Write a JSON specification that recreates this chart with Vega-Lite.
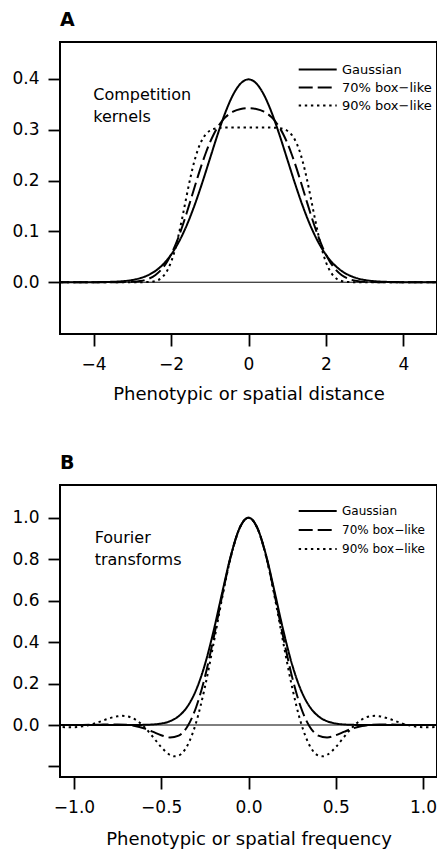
{
  "$schema": "https://vega.github.io/schema/vega-lite/v6.json",
  "padding": {"left": 10, "top": 10, "right": 0, "bottom": 0},
  "spacing": 49,
  "config": {
    "font": "DejaVu Sans",
    "view": {"stroke": "black", "strokeWidth": 2},
    "axis": {"domain": false, "grid": false, "tickColor": "black", "tickWidth": 1.8, "tickSize": 12, "labelFontSize": 17, "labelColor": "black", "titleFontSize": 18, "titleFontWeight": "normal", "titleColor": "black"},
    "axisX": {"labelPadding": 10, "titlePadding": 13},
    "axisY": {"labelPadding": 9},
    "title": {"anchor": "start", "frame": "group", "fontSize": 19, "fontWeight": "bold", "color": "black", "baseline": "alphabetic", "offset": 12},
    "legend": {"orient": "none", "title": null, "symbolType": "stroke", "symbolSize": 1444, "symbolStrokeWidth": 2, "symbolStrokeColor": "black", "labelColor": "black", "labelOffset": 4.3, "rowPadding": 0, "padding": 0}
  },
  "resolve": {"scale": {"strokeDash": "independent"}, "legend": {"strokeDash": "independent"}},
  "vconcat": [
    {
      "width": 377,
      "height": 292,
      "title": {"text": "A"},
      "layer": [
        {
          "data": {"values": [{"level": 0}]},
          "mark": {"type": "rule", "color": "black", "strokeWidth": 1},
          "encoding": {"y": {"field": "level", "type": "quantitative", "scale": {"domain": [-0.1018, 0.4724], "nice": false, "zero": false}, "axis": {"values": [0, 0.1, 0.2, 0.3, 0.4], "format": ".1f", "title": null}}}
        },
        {
          "data": {"values": [
            {"x": -5, "y": 0, "kernel": "Gaussian"},
            {"x": -4.5, "y": 0.00002, "kernel": "Gaussian"},
            {"x": -4, "y": 0.00013, "kernel": "Gaussian"},
            {"x": -3.8, "y": 0.00029, "kernel": "Gaussian"},
            {"x": -3.6, "y": 0.00061, "kernel": "Gaussian"},
            {"x": -3.4, "y": 0.00123, "kernel": "Gaussian"},
            {"x": -3.2, "y": 0.00238, "kernel": "Gaussian"},
            {"x": -3, "y": 0.00443, "kernel": "Gaussian"},
            {"x": -2.8, "y": 0.00792, "kernel": "Gaussian"},
            {"x": -2.6, "y": 0.01358, "kernel": "Gaussian"},
            {"x": -2.4, "y": 0.02239, "kernel": "Gaussian"},
            {"x": -2.2, "y": 0.03547, "kernel": "Gaussian"},
            {"x": -2, "y": 0.05399, "kernel": "Gaussian"},
            {"x": -1.8, "y": 0.07895, "kernel": "Gaussian"},
            {"x": -1.6, "y": 0.11092, "kernel": "Gaussian"},
            {"x": -1.4, "y": 0.14973, "kernel": "Gaussian"},
            {"x": -1.2, "y": 0.19419, "kernel": "Gaussian"},
            {"x": -1, "y": 0.24197, "kernel": "Gaussian"},
            {"x": -0.8, "y": 0.28969, "kernel": "Gaussian"},
            {"x": -0.6, "y": 0.33322, "kernel": "Gaussian"},
            {"x": -0.4, "y": 0.36827, "kernel": "Gaussian"},
            {"x": -0.2, "y": 0.39104, "kernel": "Gaussian"},
            {"x": 0, "y": 0.39894, "kernel": "Gaussian"},
            {"x": 0.2, "y": 0.39104, "kernel": "Gaussian"},
            {"x": 0.4, "y": 0.36827, "kernel": "Gaussian"},
            {"x": 0.6, "y": 0.33322, "kernel": "Gaussian"},
            {"x": 0.8, "y": 0.28969, "kernel": "Gaussian"},
            {"x": 1, "y": 0.24197, "kernel": "Gaussian"},
            {"x": 1.2, "y": 0.19419, "kernel": "Gaussian"},
            {"x": 1.4, "y": 0.14973, "kernel": "Gaussian"},
            {"x": 1.6, "y": 0.11092, "kernel": "Gaussian"},
            {"x": 1.8, "y": 0.07895, "kernel": "Gaussian"},
            {"x": 2, "y": 0.05399, "kernel": "Gaussian"},
            {"x": 2.2, "y": 0.03547, "kernel": "Gaussian"},
            {"x": 2.4, "y": 0.02239, "kernel": "Gaussian"},
            {"x": 2.6, "y": 0.01358, "kernel": "Gaussian"},
            {"x": 2.8, "y": 0.00792, "kernel": "Gaussian"},
            {"x": 3, "y": 0.00443, "kernel": "Gaussian"},
            {"x": 3.2, "y": 0.00238, "kernel": "Gaussian"},
            {"x": 3.4, "y": 0.00123, "kernel": "Gaussian"},
            {"x": 3.6, "y": 0.00061, "kernel": "Gaussian"},
            {"x": 3.8, "y": 0.00029, "kernel": "Gaussian"},
            {"x": 4, "y": 0.00013, "kernel": "Gaussian"},
            {"x": 4.5, "y": 0.00002, "kernel": "Gaussian"},
            {"x": 5, "y": 0, "kernel": "Gaussian"},
            {"x": -5, "y": 0, "kernel": "70% box−like"},
            {"x": -4, "y": 0, "kernel": "70% box−like"},
            {"x": -3.4, "y": 0.00006, "kernel": "70% box−like"},
            {"x": -3.2, "y": 0.00024, "kernel": "70% box−like"},
            {"x": -3, "y": 0.0008, "kernel": "70% box−like"},
            {"x": -2.8, "y": 0.00236, "kernel": "70% box−like"},
            {"x": -2.6, "y": 0.00615, "kernel": "70% box−like"},
            {"x": -2.4, "y": 0.01424, "kernel": "70% box−like"},
            {"x": -2.2, "y": 0.0294, "kernel": "70% box−like"},
            {"x": -2.1, "y": 0.04049, "kernel": "70% box−like"},
            {"x": -2, "y": 0.05426, "kernel": "70% box−like"},
            {"x": -1.9, "y": 0.0708, "kernel": "70% box−like"},
            {"x": -1.8, "y": 0.09002, "kernel": "70% box−like"},
            {"x": -1.7, "y": 0.11161, "kernel": "70% box−like"},
            {"x": -1.6, "y": 0.13508, "kernel": "70% box−like"},
            {"x": -1.5, "y": 0.15975, "kernel": "70% box−like"},
            {"x": -1.4, "y": 0.18485, "kernel": "70% box−like"},
            {"x": -1.3, "y": 0.20954, "kernel": "70% box−like"},
            {"x": -1.2, "y": 0.23304, "kernel": "70% box−like"},
            {"x": -1.1, "y": 0.25466, "kernel": "70% box−like"},
            {"x": -1, "y": 0.27392, "kernel": "70% box−like"},
            {"x": -0.9, "y": 0.29056, "kernel": "70% box−like"},
            {"x": -0.8, "y": 0.30433, "kernel": "70% box−like"},
            {"x": -0.7, "y": 0.31545, "kernel": "70% box−like"},
            {"x": -0.6, "y": 0.32411, "kernel": "70% box−like"},
            {"x": -0.4, "y": 0.33534, "kernel": "70% box−like"},
            {"x": -0.2, "y": 0.34069, "kernel": "70% box−like"},
            {"x": 0, "y": 0.34222, "kernel": "70% box−like"},
            {"x": 0.2, "y": 0.34069, "kernel": "70% box−like"},
            {"x": 0.4, "y": 0.33534, "kernel": "70% box−like"},
            {"x": 0.6, "y": 0.32411, "kernel": "70% box−like"},
            {"x": 0.7, "y": 0.31545, "kernel": "70% box−like"},
            {"x": 0.8, "y": 0.30433, "kernel": "70% box−like"},
            {"x": 0.9, "y": 0.29056, "kernel": "70% box−like"},
            {"x": 1, "y": 0.27392, "kernel": "70% box−like"},
            {"x": 1.1, "y": 0.25466, "kernel": "70% box−like"},
            {"x": 1.2, "y": 0.23304, "kernel": "70% box−like"},
            {"x": 1.3, "y": 0.20954, "kernel": "70% box−like"},
            {"x": 1.4, "y": 0.18485, "kernel": "70% box−like"},
            {"x": 1.5, "y": 0.15975, "kernel": "70% box−like"},
            {"x": 1.6, "y": 0.13508, "kernel": "70% box−like"},
            {"x": 1.7, "y": 0.11161, "kernel": "70% box−like"},
            {"x": 1.8, "y": 0.09002, "kernel": "70% box−like"},
            {"x": 1.9, "y": 0.0708, "kernel": "70% box−like"},
            {"x": 2, "y": 0.05426, "kernel": "70% box−like"},
            {"x": 2.1, "y": 0.04049, "kernel": "70% box−like"},
            {"x": 2.2, "y": 0.0294, "kernel": "70% box−like"},
            {"x": 2.4, "y": 0.01424, "kernel": "70% box−like"},
            {"x": 2.6, "y": 0.00615, "kernel": "70% box−like"},
            {"x": 2.8, "y": 0.00236, "kernel": "70% box−like"},
            {"x": 3, "y": 0.0008, "kernel": "70% box−like"},
            {"x": 3.2, "y": 0.00024, "kernel": "70% box−like"},
            {"x": 3.4, "y": 0.00006, "kernel": "70% box−like"},
            {"x": 4, "y": 0, "kernel": "70% box−like"},
            {"x": 5, "y": 0, "kernel": "70% box−like"},
            {"x": -5, "y": 0, "kernel": "90% box−like"},
            {"x": -4, "y": 0, "kernel": "90% box−like"},
            {"x": -3, "y": 0, "kernel": "90% box−like"},
            {"x": -2.8, "y": 0.00004, "kernel": "90% box−like"},
            {"x": -2.6, "y": 0.00038, "kernel": "90% box−like"},
            {"x": -2.4, "y": 0.00254, "kernel": "90% box−like"},
            {"x": -2.2, "y": 0.0119, "kernel": "90% box−like"},
            {"x": -2.1, "y": 0.02263, "kernel": "90% box−like"},
            {"x": -2, "y": 0.03945, "kernel": "90% box−like"},
            {"x": -1.9, "y": 0.06341, "kernel": "90% box−like"},
            {"x": -1.8, "y": 0.09431, "kernel": "90% box−like"},
            {"x": -1.7, "y": 0.13041, "kernel": "90% box−like"},
            {"x": -1.6, "y": 0.16868, "kernel": "90% box−like"},
            {"x": -1.5, "y": 0.20531, "kernel": "90% box−like"},
            {"x": -1.4, "y": 0.23706, "kernel": "90% box−like"},
            {"x": -1.3, "y": 0.26201, "kernel": "90% box−like"},
            {"x": -1.2, "y": 0.27976, "kernel": "90% box−like"},
            {"x": -1.1, "y": 0.29124, "kernel": "90% box−like"},
            {"x": -1, "y": 0.29791, "kernel": "90% box−like"},
            {"x": -0.9, "y": 0.30143, "kernel": "90% box−like"},
            {"x": -0.8, "y": 0.30312, "kernel": "90% box−like"},
            {"x": -0.7, "y": 0.30385, "kernel": "90% box−like"},
            {"x": -0.6, "y": 0.30414, "kernel": "90% box−like"},
            {"x": -0.4, "y": 0.30428, "kernel": "90% box−like"},
            {"x": -0.2, "y": 0.30429, "kernel": "90% box−like"},
            {"x": 0, "y": 0.30429, "kernel": "90% box−like"},
            {"x": 0.2, "y": 0.30429, "kernel": "90% box−like"},
            {"x": 0.4, "y": 0.30428, "kernel": "90% box−like"},
            {"x": 0.6, "y": 0.30414, "kernel": "90% box−like"},
            {"x": 0.7, "y": 0.30385, "kernel": "90% box−like"},
            {"x": 0.8, "y": 0.30312, "kernel": "90% box−like"},
            {"x": 0.9, "y": 0.30143, "kernel": "90% box−like"},
            {"x": 1, "y": 0.29791, "kernel": "90% box−like"},
            {"x": 1.1, "y": 0.29124, "kernel": "90% box−like"},
            {"x": 1.2, "y": 0.27976, "kernel": "90% box−like"},
            {"x": 1.3, "y": 0.26201, "kernel": "90% box−like"},
            {"x": 1.4, "y": 0.23706, "kernel": "90% box−like"},
            {"x": 1.5, "y": 0.20531, "kernel": "90% box−like"},
            {"x": 1.6, "y": 0.16868, "kernel": "90% box−like"},
            {"x": 1.7, "y": 0.13041, "kernel": "90% box−like"},
            {"x": 1.8, "y": 0.09431, "kernel": "90% box−like"},
            {"x": 1.9, "y": 0.06341, "kernel": "90% box−like"},
            {"x": 2, "y": 0.03945, "kernel": "90% box−like"},
            {"x": 2.1, "y": 0.02263, "kernel": "90% box−like"},
            {"x": 2.2, "y": 0.0119, "kernel": "90% box−like"},
            {"x": 2.4, "y": 0.00254, "kernel": "90% box−like"},
            {"x": 2.6, "y": 0.00038, "kernel": "90% box−like"},
            {"x": 2.8, "y": 0.00004, "kernel": "90% box−like"},
            {"x": 3, "y": 0, "kernel": "90% box−like"},
            {"x": 4, "y": 0, "kernel": "90% box−like"},
            {"x": 5, "y": 0, "kernel": "90% box−like"}
          ]},
          "mark": {"type": "line", "interpolate": "monotone", "clip": true, "color": "black", "strokeWidth": 2},
          "encoding": {
            "x": {"field": "x", "type": "quantitative", "scale": {"domain": [-4.865, 4.865], "nice": false, "zero": false}, "axis": {"values": [-4, -2, 0, 2, 4], "title": "Phenotypic or spatial distance"}},
            "y": {"field": "y", "type": "quantitative"},
            "strokeDash": {"field": "kernel", "type": "nominal", "scale": {"domain": ["Gaussian", "70% box−like", "90% box−like"], "range": [[1, 0], [14, 5], [2.4, 3.7]]}, "legend": {"legendX": 237.7, "legendY": 18.75, "clipHeight": 17.5, "labelFontSize": 13}}
          }
        },
        {
          "data": {"values": [{"label": "Competition kernels"}]},
          "mark": {"type": "text", "align": "left", "baseline": "alphabetic", "fontSize": 16, "lineHeight": 22, "color": "black"},
          "encoding": {
            "x": {"datum": -4.0075},
            "y": {"datum": 0.3574},
            "text": {"value": ["Competition", "kernels"]}
          }
        }
      ]
    },
    {
      "width": 377,
      "height": 292,
      "title": {"text": "B"},
      "layer": [
        {
          "data": {"values": [{"level": 0}]},
          "mark": {"type": "rule", "color": "black", "strokeWidth": 1},
          "encoding": {"y": {"field": "level", "type": "quantitative", "scale": {"domain": [-0.2508, 1.1578], "nice": false, "zero": false}, "axis": {"values": [-0.2, 0, 0.2, 0.4, 0.6, 0.8, 1.0], "labelExpr": "datum.value < -0.1 ? '' : format(datum.value, '.1f')", "title": null}}}
        },
        {
          "data": {"values": [
            {"x": -1.1, "y": 0, "kernel": "Gaussian"},
            {"x": -0.8, "y": 0, "kernel": "Gaussian"},
            {"x": -0.7, "y": 0.00006, "kernel": "Gaussian"},
            {"x": -0.65, "y": 0.00024, "kernel": "Gaussian"},
            {"x": -0.6, "y": 0.00082, "kernel": "Gaussian"},
            {"x": -0.55, "y": 0.00255, "kernel": "Gaussian"},
            {"x": -0.5, "y": 0.00719, "kernel": "Gaussian"},
            {"x": -0.45, "y": 0.01837, "kernel": "Gaussian"},
            {"x": -0.4, "y": 0.0425, "kernel": "Gaussian"},
            {"x": -0.35, "y": 0.08909, "kernel": "Gaussian"},
            {"x": -0.3, "y": 0.16923, "kernel": "Gaussian"},
            {"x": -0.25, "y": 0.29121, "kernel": "Gaussian"},
            {"x": -0.2, "y": 0.45404, "kernel": "Gaussian"},
            {"x": -0.15, "y": 0.64135, "kernel": "Gaussian"},
            {"x": -0.1, "y": 0.82087, "kernel": "Gaussian"},
            {"x": -0.05, "y": 0.95185, "kernel": "Gaussian"},
            {"x": 0, "y": 1, "kernel": "Gaussian"},
            {"x": 0.05, "y": 0.95185, "kernel": "Gaussian"},
            {"x": 0.1, "y": 0.82087, "kernel": "Gaussian"},
            {"x": 0.15, "y": 0.64135, "kernel": "Gaussian"},
            {"x": 0.2, "y": 0.45404, "kernel": "Gaussian"},
            {"x": 0.25, "y": 0.29121, "kernel": "Gaussian"},
            {"x": 0.3, "y": 0.16923, "kernel": "Gaussian"},
            {"x": 0.35, "y": 0.08909, "kernel": "Gaussian"},
            {"x": 0.4, "y": 0.0425, "kernel": "Gaussian"},
            {"x": 0.45, "y": 0.01837, "kernel": "Gaussian"},
            {"x": 0.5, "y": 0.00719, "kernel": "Gaussian"},
            {"x": 0.55, "y": 0.00255, "kernel": "Gaussian"},
            {"x": 0.6, "y": 0.00082, "kernel": "Gaussian"},
            {"x": 0.65, "y": 0.00024, "kernel": "Gaussian"},
            {"x": 0.7, "y": 0.00006, "kernel": "Gaussian"},
            {"x": 0.8, "y": 0, "kernel": "Gaussian"},
            {"x": 1.1, "y": 0, "kernel": "Gaussian"},
            {"x": -1.1, "y": 0, "kernel": "70% box−like"},
            {"x": -1, "y": 0.00009, "kernel": "70% box−like"},
            {"x": -0.95, "y": 0.00039, "kernel": "70% box−like"},
            {"x": -0.9, "y": 0.00095, "kernel": "70% box−like"},
            {"x": -0.85, "y": 0.00178, "kernel": "70% box−like"},
            {"x": -0.8, "y": 0.00261, "kernel": "70% box−like"},
            {"x": -0.75, "y": 0.00272, "kernel": "70% box−like"},
            {"x": -0.7, "y": 0.00078, "kernel": "70% box−like"},
            {"x": -0.65, "y": -0.00494, "kernel": "70% box−like"},
            {"x": -0.6, "y": -0.01587, "kernel": "70% box−like"},
            {"x": -0.55, "y": -0.03185, "kernel": "70% box−like"},
            {"x": -0.5, "y": -0.04935, "kernel": "70% box−like"},
            {"x": -0.45, "y": -0.06009, "kernel": "70% box−like"},
            {"x": -0.4, "y": -0.05109, "kernel": "70% box−like"},
            {"x": -0.35, "y": -0.00687, "kernel": "70% box−like"},
            {"x": -0.3, "y": 0.08564, "kernel": "70% box−like"},
            {"x": -0.25, "y": 0.23098, "kernel": "70% box−like"},
            {"x": -0.2, "y": 0.4198, "kernel": "70% box−like"},
            {"x": -0.15, "y": 0.62742, "kernel": "70% box−like"},
            {"x": -0.1, "y": 0.81756, "kernel": "70% box−like"},
            {"x": -0.05, "y": 0.95162, "kernel": "70% box−like"},
            {"x": 0, "y": 1, "kernel": "70% box−like"},
            {"x": 0.05, "y": 0.95162, "kernel": "70% box−like"},
            {"x": 0.1, "y": 0.81756, "kernel": "70% box−like"},
            {"x": 0.15, "y": 0.62742, "kernel": "70% box−like"},
            {"x": 0.2, "y": 0.4198, "kernel": "70% box−like"},
            {"x": 0.25, "y": 0.23098, "kernel": "70% box−like"},
            {"x": 0.3, "y": 0.08564, "kernel": "70% box−like"},
            {"x": 0.35, "y": -0.00687, "kernel": "70% box−like"},
            {"x": 0.4, "y": -0.05109, "kernel": "70% box−like"},
            {"x": 0.45, "y": -0.06009, "kernel": "70% box−like"},
            {"x": 0.5, "y": -0.04935, "kernel": "70% box−like"},
            {"x": 0.55, "y": -0.03185, "kernel": "70% box−like"},
            {"x": 0.6, "y": -0.01587, "kernel": "70% box−like"},
            {"x": 0.65, "y": -0.00494, "kernel": "70% box−like"},
            {"x": 0.7, "y": 0.00078, "kernel": "70% box−like"},
            {"x": 0.75, "y": 0.00272, "kernel": "70% box−like"},
            {"x": 0.8, "y": 0.00261, "kernel": "70% box−like"},
            {"x": 0.85, "y": 0.00178, "kernel": "70% box−like"},
            {"x": 0.9, "y": 0.00095, "kernel": "70% box−like"},
            {"x": 0.95, "y": 0.00039, "kernel": "70% box−like"},
            {"x": 1, "y": 0.00009, "kernel": "70% box−like"},
            {"x": 1.1, "y": 0, "kernel": "70% box−like"},
            {"x": -1.1, "y": -0.00756, "kernel": "90% box−like"},
            {"x": -1.05, "y": -0.01034, "kernel": "90% box−like"},
            {"x": -1, "y": -0.01054, "kernel": "90% box−like"},
            {"x": -0.95, "y": -0.00642, "kernel": "90% box−like"},
            {"x": -0.9, "y": 0.00288, "kernel": "90% box−like"},
            {"x": -0.85, "y": 0.01654, "kernel": "90% box−like"},
            {"x": -0.8, "y": 0.03145, "kernel": "90% box−like"},
            {"x": -0.75, "y": 0.04229, "kernel": "90% box−like"},
            {"x": -0.725, "y": 0.04416, "kernel": "90% box−like"},
            {"x": -0.7, "y": 0.0426, "kernel": "90% box−like"},
            {"x": -0.65, "y": 0.02685, "kernel": "90% box−like"},
            {"x": -0.6, "y": -0.007, "kernel": "90% box−like"},
            {"x": -0.55, "y": -0.0551, "kernel": "90% box−like"},
            {"x": -0.5, "y": -0.10649, "kernel": "90% box−like"},
            {"x": -0.45, "y": -0.144, "kernel": "90% box−like"},
            {"x": -0.425, "y": -0.15122, "kernel": "90% box−like"},
            {"x": -0.4, "y": -0.14743, "kernel": "90% box−like"},
            {"x": -0.35, "y": -0.0988, "kernel": "90% box−like"},
            {"x": -0.3, "y": 0.01195, "kernel": "90% box−like"},
            {"x": -0.25, "y": 0.18204, "kernel": "90% box−like"},
            {"x": -0.2, "y": 0.39398, "kernel": "90% box−like"},
            {"x": -0.15, "y": 0.61751, "kernel": "90% box−like"},
            {"x": -0.1, "y": 0.81531, "kernel": "90% box−like"},
            {"x": -0.05, "y": 0.95147, "kernel": "90% box−like"},
            {"x": 0, "y": 1, "kernel": "90% box−like"},
            {"x": 0.05, "y": 0.95147, "kernel": "90% box−like"},
            {"x": 0.1, "y": 0.81531, "kernel": "90% box−like"},
            {"x": 0.15, "y": 0.61751, "kernel": "90% box−like"},
            {"x": 0.2, "y": 0.39398, "kernel": "90% box−like"},
            {"x": 0.25, "y": 0.18204, "kernel": "90% box−like"},
            {"x": 0.3, "y": 0.01195, "kernel": "90% box−like"},
            {"x": 0.35, "y": -0.0988, "kernel": "90% box−like"},
            {"x": 0.4, "y": -0.14743, "kernel": "90% box−like"},
            {"x": 0.425, "y": -0.15122, "kernel": "90% box−like"},
            {"x": 0.45, "y": -0.144, "kernel": "90% box−like"},
            {"x": 0.5, "y": -0.10649, "kernel": "90% box−like"},
            {"x": 0.55, "y": -0.0551, "kernel": "90% box−like"},
            {"x": 0.6, "y": -0.007, "kernel": "90% box−like"},
            {"x": 0.65, "y": 0.02685, "kernel": "90% box−like"},
            {"x": 0.7, "y": 0.0426, "kernel": "90% box−like"},
            {"x": 0.725, "y": 0.04416, "kernel": "90% box−like"},
            {"x": 0.75, "y": 0.04229, "kernel": "90% box−like"},
            {"x": 0.8, "y": 0.03145, "kernel": "90% box−like"},
            {"x": 0.85, "y": 0.01654, "kernel": "90% box−like"},
            {"x": 0.9, "y": 0.00288, "kernel": "90% box−like"},
            {"x": 0.95, "y": -0.00642, "kernel": "90% box−like"},
            {"x": 1, "y": -0.01054, "kernel": "90% box−like"},
            {"x": 1.05, "y": -0.01034, "kernel": "90% box−like"},
            {"x": 1.1, "y": -0.00756, "kernel": "90% box−like"}
          ]},
          "mark": {"type": "line", "interpolate": "monotone", "clip": true, "color": "black", "strokeWidth": 2},
          "encoding": {
            "x": {"field": "x", "type": "quantitative", "scale": {"domain": [-1.08, 1.08], "nice": false, "zero": false}, "axis": {"values": [-1, -0.5, 0, 0.5, 1], "format": ".1f", "title": "Phenotypic or spatial frequency", "labelPadding": 10, "titlePadding": 15}},
            "y": {"field": "y", "type": "quantitative"},
            "strokeDash": {"field": "kernel", "type": "nominal", "scale": {"domain": ["Gaussian", "70% box−like", "90% box−like"], "range": [[1, 0], [14, 5], [2.4, 3.7]]}, "legend": {"legendX": 237.7, "legendY": 16.8, "clipHeight": 18.4, "labelFontSize": 12}}
          }
        },
        {
          "data": {"values": [{"label": "Fourier transforms"}]},
          "mark": {"type": "text", "align": "left", "baseline": "alphabetic", "fontSize": 16, "lineHeight": 21.6, "color": "black"},
          "encoding": {
            "x": {"datum": -0.8812},
            "y": {"datum": 0.8763},
            "text": {"value": ["Fourier", "transforms"]}
          }
        }
      ]
    }
  ]
}
